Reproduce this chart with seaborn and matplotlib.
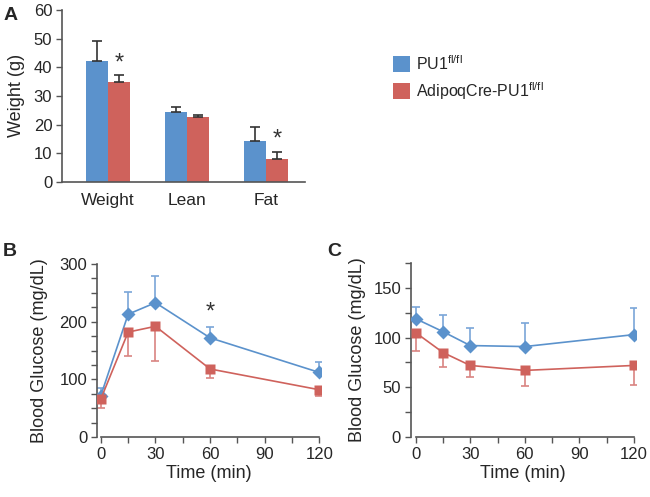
import matplotlib
matplotlib.use("Agg")
import matplotlib.pyplot as plt
from matplotlib.patches import Patch
from matplotlib.ticker import MultipleLocator
import seaborn as sns
import pandas as pd
import numpy as np

# ---------------- data ----------------
groups = ["PU1$^{fl/fl}$", "AdipoqCre-PU1$^{fl/fl}$"]
categories = ["Weight", "Lean", "Fat"]
bar_ctrl = [42.2, 24.3, 14.1]
bar_ctrl_err = [7.1, 2.0, 5.0]
bar_ko = [34.7, 22.6, 8.0]
bar_ko_err = [2.5, 0.9, 2.5]

time = [0, 15, 30, 60, 120]
gtt_ctrl = [72, 213, 233, 172, 112]
gtt_ctrl_err = [13, 39, 47, 19, 18]
gtt_ko = [66, 182, 192, 118, 82]
gtt_ko_err = [15, 41, 61, 15, 10]

itt_ctrl = [119, 106, 92, 91, 103]
itt_ctrl_err = [12, 17, 18, 24, 27]
itt_ko = [105, 85, 72, 67, 72]
itt_ko_err = [18, 15, 12, 16, 20]

BLUE = "#5b92cc"
RED = "#cf625c"
LBLUE = "#7aa6d8"
LRED = "#d98481"
SPINE = "#555555"

sns.set_style("ticks")
plt.rcParams["font.family"] = ["Liberation Sans", "DejaVu Sans"]
plt.rcParams["mathtext.fontset"] = "custom"
plt.rcParams["mathtext.rm"] = "Liberation Sans"
plt.rcParams["mathtext.it"] = "Liberation Sans"

fig = plt.figure(figsize=(6.5, 4.97), dpi=100)

def style_axes(ax):
    for s in ["top", "right"]:
        ax.spines[s].set_visible(False)
    for s in ["left", "bottom"]:
        ax.spines[s].set_color(SPINE)
        ax.spines[s].set_linewidth(1.2)
    ax.tick_params(which="both", direction="out", length=4, width=1.0,
                   color=SPINE, labelsize=12, pad=3)

# ---------------- panel A ----------------
axA = fig.add_axes([0.0954, 0.634, 0.374, 0.346])
dfA = pd.DataFrame({
    "cat": categories * 2,
    "grp": [groups[0]] * 3 + [groups[1]] * 3,
    "val": bar_ctrl + bar_ko,
})
sns.barplot(data=dfA, x="cat", y="val", hue="grp", hue_order=groups,
            order=categories, palette=[BLUE, RED], width=0.56, gap=0,
            errorbar=None, saturation=1, ax=axA, legend=False, edgecolor="none")
for cont, vals, errs in zip(axA.containers, [bar_ctrl, bar_ko], [bar_ctrl_err, bar_ko_err]):
    xs = [p.get_x() + p.get_width() / 2 for p in cont]
    axA.errorbar(xs, vals, yerr=[np.zeros(len(errs)), errs], fmt="none",
                 ecolor="#333333", elinewidth=1.2, capsize=3.5, capthick=1.2)
    if vals is bar_ko:
        for i in [0, 2]:
            axA.text(xs[i], vals[i] + errs[i] + 0.3, "*", ha="center", va="bottom",
                     fontsize=17, color="#333333")
axA.set_xlim(-0.58, 2.49)
axA.set_ylim(0, 60)
axA.set_yticks(range(0, 61, 10))
style_axes(axA)
axA.tick_params(axis="x", length=0, pad=8, labelsize=12.5)
axA.set_xlabel("")
axA.set_ylabel("Weight (g)", fontsize=13, labelpad=6)
fig.text(0.005, 0.985, "A", fontsize=14, fontweight="bold", va="top", ha="left")

handles = [Patch(facecolor=BLUE, edgecolor="none"), Patch(facecolor=RED, edgecolor="none")]
fig.legend(handles, groups, loc="upper left", bbox_to_anchor=(0.582, 0.92),
           frameon=False, fontsize=11.5, handlelength=1.1, handleheight=1.15,
           handletextpad=0.35, labelspacing=0.45)

# ---------------- line panels ----------------
def line_panel(rect, ctrl, ctrl_err, ko, ko_err, ylim, major, xlim_lo):
    ax = fig.add_axes(rect)
    df = pd.DataFrame({
        "t": time * 2,
        "v": ctrl + ko,
        "g": [groups[0]] * len(time) + [groups[1]] * len(time),
    })
    ax.errorbar(time, ctrl, yerr=[np.zeros(len(time)), ctrl_err], fmt="none",
                ecolor=LBLUE, elinewidth=1.2, capsize=3, capthick=1.2, zorder=1)
    ax.errorbar(time, ko, yerr=[ko_err, np.zeros(len(time))], fmt="none",
                ecolor=LRED, elinewidth=1.2, capsize=3, capthick=1.2, zorder=1)
    sns.lineplot(data=df, x="t", y="v", hue="g", hue_order=groups,
                 palette=[BLUE, RED], style="g", markers=["D", "s"], dashes=False,
                 markersize=7, markeredgecolor="none", linewidth=1.2,
                 legend=False, ax=ax, zorder=3)
    ax.set_xlim(xlim_lo, 121)
    ax.set_ylim(*ylim)
    ax.xaxis.set_major_locator(MultipleLocator(30))
    ax.xaxis.set_minor_locator(MultipleLocator(15))
    ax.yaxis.set_major_locator(MultipleLocator(major))
    ax.yaxis.set_minor_locator(MultipleLocator(25))
    style_axes(ax)
    ax.spines["bottom"].set_bounds(0, 120)
    ax.set_xlabel("Time (min)", fontsize=13, labelpad=2)
    return ax

axB = line_panel([0.149, 0.1207, 0.345, 0.348], gtt_ctrl, gtt_ctrl_err,
                 gtt_ko, gtt_ko_err, (0, 300), 100, -2.2)
axB.set_ylabel("Blood Glucose (mg/dL)", fontsize=13, labelpad=8)
axB.text(60, 196, "*", ha="center", va="bottom", fontsize=17, color="#333333")
fig.text(0.005, 0.512, "B", fontsize=14, fontweight="bold", va="top", ha="left")

axC = line_panel([0.632, 0.1207, 0.346, 0.350], itt_ctrl, itt_ctrl_err,
                 itt_ko, itt_ko_err, (0, 175), 50, -2.7)
axC.set_ylabel("Blood Glucose (mg/dL)", fontsize=13, labelpad=5)
fig.text(0.503, 0.512, "C", fontsize=14, fontweight="bold", va="top", ha="left")

fig.savefig("out.png", dpi=100)
